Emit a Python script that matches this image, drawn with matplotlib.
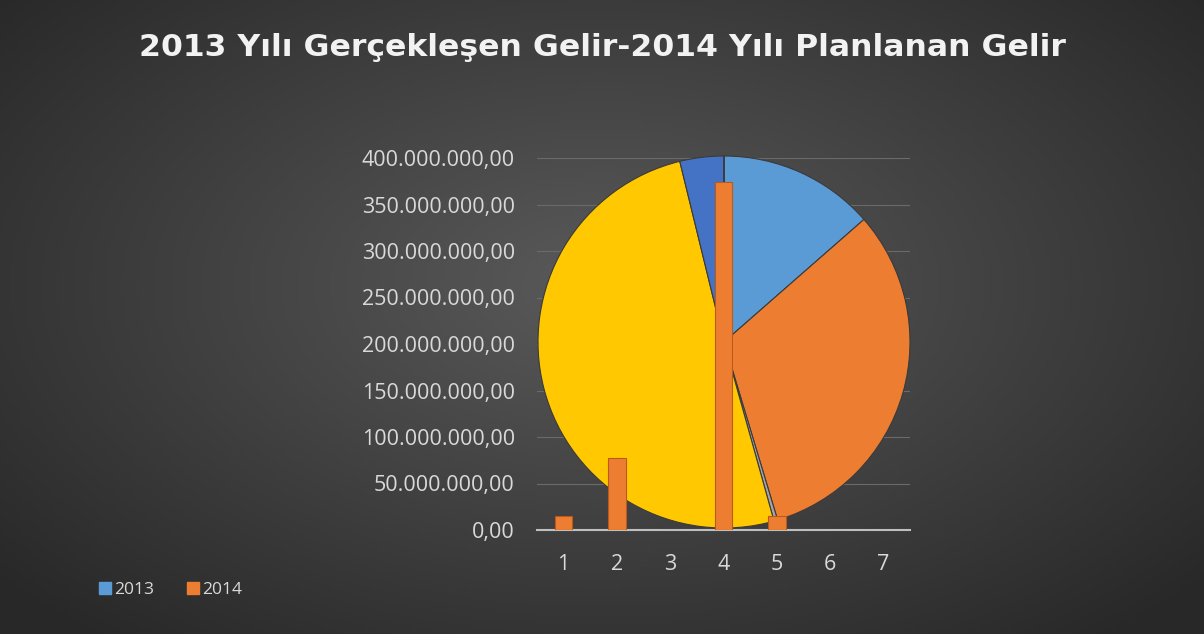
import numpy as np
import matplotlib.pyplot as plt
from matplotlib.ticker import FuncFormatter
from matplotlib.lines import Line2D

categories = ['1', '2', '3', '4', '5', '6', '7']
gelir_2013 = [55e6, 129e6, 1.3e6, 205e6, 15.5e6, 0, 0]     # pie series
gelir_2014 = [15e6, 77e6, 0.5e6, 374e6, 15e6, 0, 0]       # bar series
pie_colors = ['#5B9BD5', '#ED7D31', '#A5A5A5', '#FFC800', '#4472C4', '#70AD47', '#264478']
bar_color = '#ED7D31'
text_col = '#D9D9D9'

W, H = 1204, 634
fig = plt.figure(figsize=(W / 100, H / 100), dpi=100)

# background with soft radial gradient
bg = fig.add_axes([0, 0, 1, 1], zorder=-5)
yy, xx = np.mgrid[0:1:200j, 0:1:380j]
r = np.sqrt(((xx - 0.5) * 1.2) ** 2 + ((yy - 0.45) * 1.1) ** 2)
img = np.clip(1 - r / 0.8, 0, 1)
lo = np.array([0x28, 0x28, 0x28]) / 255
hi = np.array([0x5a, 0x5a, 0x5a]) / 255
rgb = lo + (hi - lo) * img[..., None]
bg.imshow(rgb, aspect='auto', extent=[0, 1, 0, 1])
bg.axis('off')

title = fig.text(0.5, 1 - 47 / H, '2013 Yılı Gerçekleşen Gelir-2014 Yılı Planlanan Gelir',
                 ha='center', va='center', color='#F2F2F2', fontsize=20, fontweight='bold',
                 family='DejaVu Sans')
# fit the title to the width it has in the original (~928 px)
fig.canvas.draw()
tw = title.get_window_extent().width
title.set_fontsize(20 * 928 / tw)

pos = [537 / W, 1 - 530 / H, (910 - 537) / W, (530 - 158) / H]
x = np.arange(len(categories))

# grid / axis layer
ax = fig.add_axes(pos, zorder=0)
ax.set_facecolor('none')
ax.set_xlim(-0.5, len(categories) - 0.5)
ax.set_ylim(0, 400e6)
ax.set_yticks(np.arange(0, 400e6 + 1, 50e6))
ax.yaxis.set_major_formatter(FuncFormatter(
    lambda v, p: f'{v:,.2f}'.replace(',', 'X').replace('.', ',').replace('X', '.')))
ax.set_xticks(x)
ax.set_xticklabels(categories)
ax.grid(axis='y', color='#6a6a6a', linewidth=0.8)
ax.set_axisbelow(True)
for s in ['top', 'right', 'left']:
    ax.spines[s].set_visible(False)
ax.spines['bottom'].set_color('#BFBFBF')
ax.spines['bottom'].set_linewidth(1.5)
ax.tick_params(length=0, colors=text_col, labelsize=15.5)
ax.tick_params(axis='y', pad=16)
ax.tick_params(axis='x', pad=17)
for t in ax.get_xticklabels() + ax.get_yticklabels():
    t.set_family('Open Sans')

# pie layer
pax = fig.add_axes([538 / W, 1 - 528 / H, 372 / W, 372 / H], zorder=1)
pax.pie(gelir_2013, colors=pie_colors, startangle=90, counterclock=False,
        wedgeprops=dict(edgecolor='#3a3a3a', linewidth=0.8))
pax.set_xlim(-1, 1)
pax.set_ylim(-1, 1)
pax.set_aspect('auto')
pax.axis('off')

# bar layer
bax = fig.add_axes(pos, zorder=2, sharex=ax, sharey=ax)
bax.set_facecolor('none')
bars = bax.bar(x, gelir_2014, width=0.33, color=bar_color, edgecolor='#B85A1C', linewidth=0.8)
for b, v in zip(bars, gelir_2014):
    if v == 0:
        b.set_linewidth(0)
bax.axis('off')

handles = [Line2D([], [], marker='s', linestyle='none', markersize=8.5, color='#5B9BD5'),
           Line2D([], [], marker='s', linestyle='none', markersize=8.5, color=bar_color)]
leg = fig.legend(handles, ['2013', '2014'], loc='center left',
                 bbox_to_anchor=(84 / W, 1 - 590 / H), ncol=2, frameon=False,
                 handlelength=0.6, handletextpad=0.25, columnspacing=1.9,
                 prop={'family': 'Open Sans', 'size': 12.5})
for t in leg.get_texts():
    t.set_color(text_col)

fig.savefig('out.png', dpi=100)
